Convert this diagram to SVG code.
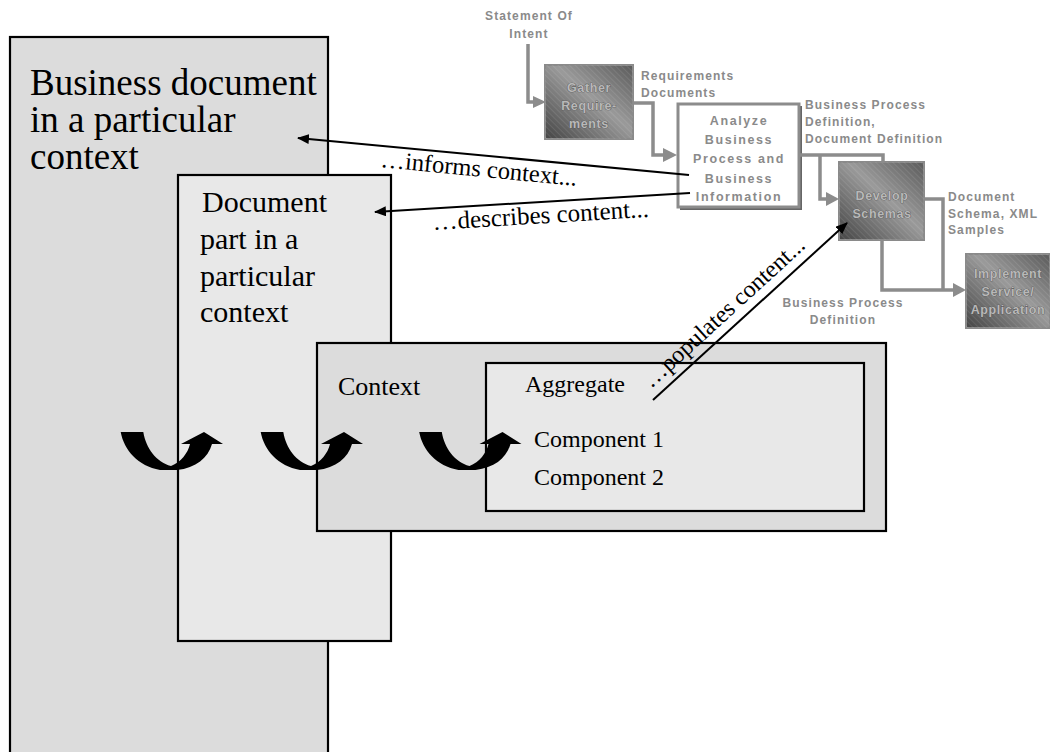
<svg xmlns="http://www.w3.org/2000/svg" width="1050" height="752" viewBox="0 0 1050 752">
<style>
.box{stroke:#000;stroke-width:2.2}
.serif{font-family:"Liberation Serif","Times New Roman",serif;fill:#000}
.flow{font-family:"Liberation Sans",Arial,sans-serif;font-weight:bold;font-size:12px;fill:#8a8a8a;letter-spacing:1.1px}
.an{font-family:"Liberation Sans",Arial,sans-serif;font-weight:bold;font-size:12.5px;fill:#8a8a8a;letter-spacing:1.6px;text-anchor:middle}
.emb{font-family:"Liberation Sans",Arial,sans-serif;font-weight:bold;font-size:12.5px;fill:#b8b8b8;stroke:#505050;stroke-width:0.7px;paint-order:stroke;letter-spacing:0.6px;text-anchor:middle}
.gl{fill:none;stroke:#8c8c8c;stroke-width:3.5}
.gh{fill:#8c8c8c}
.blk{stroke:#000;stroke-width:2;fill:none}
</style>
<defs>
<linearGradient id="gr" x1="0" y1="1" x2="1" y2="0">
<stop offset="0" stop-color="#444"/>
<stop offset="0.55" stop-color="#9a9a9a"/>
<stop offset="1" stop-color="#5a5a5a"/>
</linearGradient>
<pattern id="hatch" width="4" height="4" patternUnits="userSpaceOnUse" patternTransform="rotate(-45)">
<line x1="0" y1="0" x2="0" y2="4" stroke="#fff" stroke-opacity="0.18" stroke-width="1"/>
</pattern>
<marker id="ah" markerWidth="12" markerHeight="10" refX="11" refY="5" orient="auto" markerUnits="userSpaceOnUse">
<path d="M0,0 L12,5 L0,10 z" fill="#000"/>
</marker>
<path id="uarr" d="M120.7,432 L143.3,432 C146,448 156,462 171,466 C181,462 188,453 190,444 L181,444 L204,432 L223,444 L212,444 C208,458 196,468 177,470 L160,470 C138,466 124,450 120.7,432 Z" fill="#000"/>
</defs>
<rect width="1050" height="752" fill="#fff"/>

<g id="business-document">
<rect class="box" x="10" y="37" width="318" height="740" fill="#dcdcdc"/>
<text class="serif" font-size="37" x="30" y="95">Business document</text>
<text class="serif" font-size="37" x="30" y="132">in a particular</text>
<text class="serif" font-size="37" x="30" y="169">context</text>
</g>

<g id="document-part">
<rect class="box" x="178" y="175" width="213" height="466" fill="#e8e8e8"/>
<text class="serif" font-size="30" x="202" y="212">Document</text>
<text class="serif" font-size="30" x="200" y="249">part in a</text>
<text class="serif" font-size="30" x="200" y="286">particular</text>
<text class="serif" font-size="30" x="200" y="322">context</text>
</g>

<g id="context">
<rect class="box" x="317" y="343" width="569" height="188" fill="#dcdcdc"/>
<text class="serif" font-size="26" x="338" y="395">Context</text>
</g>

<g id="aggregate">
<rect class="box" x="486" y="363" width="378" height="148" fill="#e8e8e8"/>
<text class="serif" font-size="24" x="525" y="392">Aggregate</text>
<text class="serif" font-size="24" x="534" y="447">Component 1</text>
<text class="serif" font-size="24" x="534" y="485">Component 2</text>
</g>

<g id="gather">
<rect x="545" y="65" width="88" height="74" fill="url(#gr)" stroke="#8a8a8a" stroke-width="2"/>
<rect x="545" y="65" width="88" height="74" fill="url(#hatch)"/>
<text class="emb" x="589" y="92">Gather</text>
<text class="emb" x="589" y="110">Require-</text>
<text class="emb" x="589" y="128">ments</text>
</g>

<g id="analyze">
<rect x="680" y="106" width="122" height="104" fill="#666"/>
<rect x="678" y="104" width="121" height="103" fill="#fff" stroke="#8c8c8c" stroke-width="3"/>
<text class="an" x="739" y="125">Analyze</text>
<text class="an" x="739" y="144">Business</text>
<text class="an" x="739" y="163">Process and</text>
<text class="an" x="739" y="183">Business</text>
<text class="an" x="739" y="201">Information</text>
</g>

<g id="develop">
<rect x="839" y="162" width="85" height="78" fill="url(#gr)" stroke="#8a8a8a" stroke-width="2"/>
<rect x="839" y="162" width="85" height="78" fill="url(#hatch)"/>
<text class="emb" x="882" y="200">Develop</text>
<text class="emb" x="882" y="218">Schemas</text>
</g>

<g id="implement">
<rect x="966" y="254" width="84" height="74" fill="url(#gr)" stroke="#8a8a8a" stroke-width="2"/>
<rect x="966" y="254" width="84" height="74" fill="url(#hatch)"/>
<text class="emb" x="1008" y="278">Implement</text>
<text class="emb" x="1008" y="296">Service/</text>
<text class="emb" x="1008" y="314">Application</text>
</g>

<g id="flow-labels">
<text class="flow" x="529" y="20" text-anchor="middle">Statement Of</text>
<text class="flow" x="529" y="38" text-anchor="middle">Intent</text>
<text class="flow" x="641" y="80">Requirements</text>
<text class="flow" x="641" y="97">Documents</text>
<text class="flow" x="805" y="109">Business Process</text>
<text class="flow" x="805" y="126">Definition,</text>
<text class="flow" x="805" y="143">Document Definition</text>
<text class="flow" x="948" y="201">Document</text>
<text class="flow" x="948" y="218">Schema, XML</text>
<text class="flow" x="948" y="234">Samples</text>
<text class="flow" x="843" y="307" text-anchor="middle">Business Process</text>
<text class="flow" x="843" y="324" text-anchor="middle">Definition</text>
</g>

<g id="connectors">
<path class="gl" d="M528,44 V102 H536"/>
<polygon class="gh" points="533,96 546,102 533,108"/>
<path class="gl" d="M633,103 H653 V155 H666"/>
<polygon class="gh" points="663,148 677,155 663,162"/>
<path class="gl" d="M799,155 H883 V163"/>
<path class="gl" d="M820,155 V199 H829"/>
<polygon class="gh" points="826,192 839,199 826,206"/>
<path class="gl" d="M924,199 H943 V290"/>
<path class="gl" d="M882,240 V290 H956"/>
<polygon class="gh" points="953,283 966,290 953,297"/>

<line class="blk" x1="689" y1="175" x2="298" y2="138" marker-end="url(#ah)"/>
<line class="blk" x1="690" y1="193" x2="375" y2="212" marker-end="url(#ah)"/>
<line class="blk" x1="653" y1="400" x2="847" y2="223" stroke-width="2.5" marker-end="url(#ah)"/>

<text class="serif" font-size="24.5" x="380" y="167" transform="rotate(5.5 380 167)">…informs context...</text>
<text class="serif" font-size="25" x="433" y="230" transform="rotate(-3.5 433 230)">…describes content...</text>
<text class="serif" font-size="24" x="651" y="389" transform="rotate(-42.4 651 389)">…populates content...</text>

<use href="#uarr"/>
<use href="#uarr" x="140"/>
<use href="#uarr" x="298.5"/>
</g>
</svg>
